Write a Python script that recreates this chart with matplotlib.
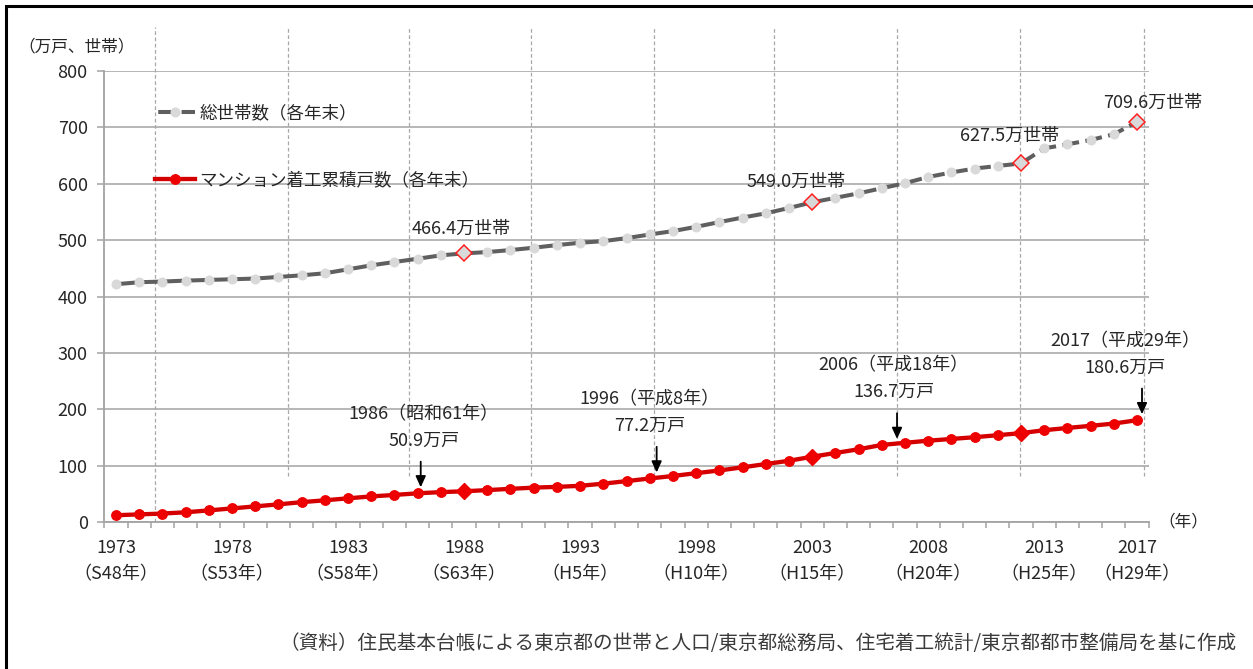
import matplotlib
matplotlib.use('Agg')
import matplotlib.pyplot as plt
import numpy as np
from matplotlib.transforms import offset_copy
from matplotlib.patches import Rectangle

plt.rcParams['font.family'] = ['Noto Sans CJK JP', 'DejaVu Sans']

# data
years = np.arange(1973, 2018)
households = [421.8, 425.3, 426.5, 428.2, 429.4, 430.6, 431.8, 434.7, 437.6, 441.2,
              448.2, 455.3, 461.2, 467.0, 473.0, 476.5, 478.8, 482.4, 486.5, 491.2,
              495.3, 498.2, 503.5, 510.0, 516.0, 523.6, 532.0, 540.0, 547.5, 557.0,
              567.0, 575.0, 583.0, 592.0, 601.0, 612.0, 620.0, 627.0, 631.6, 636.0,
              662.7, 670.0, 677.6, 687.8, 709.6]
condos = [12.0, 13.5, 15.0, 17.2, 20.6, 24.1, 27.7, 31.3, 35.2, 38.5,
          42.0, 45.4, 48.0, 50.9, 53.0, 54.5, 56.6, 58.8, 61.0, 62.3,
          64.2, 68.0, 72.5, 77.2, 81.6, 86.6, 91.4, 97.0, 102.8, 108.6,
          115.8, 122.4, 129.0, 136.7, 140.5, 144.2, 147.3, 150.4, 154.0, 157.6,
          162.8, 166.8, 170.6, 174.6, 180.6]

hh_label = '総世帯数（各年末）'
condo_label = 'マンション着工累積戸数（各年末）'

hh_mark_years = [1988, 2003, 2012, 2017]
hh_mark_vals = [466.4, 549.0, 627.5, 709.6]
condo_diamond_years = [1988, 2003, 2012]

condo_note_years = [1986, 1996, 2006, 2017]
condo_note_eras = ['昭和61年', '平成8年', '平成18年', '平成29年']
condo_note_vals = [50.9, 77.2, 136.7, 180.6]

tick_years = [1973, 1978, 1983, 1988, 1993, 1998, 2003, 2008, 2013, 2017]
tick_eras = ['S48', 'S53', 'S58', 'S63', 'H5', 'H10', 'H15', 'H20', 'H25', 'H29']

source = '（資料）住民基本台帳による東京都の世帯と人口/東京都総務局、住宅着工統計/東京都都市整備局を基に作成'

W, H = 1253, 669
fig = plt.figure(figsize=(W / 100, H / 100), dpi=100)
ax = fig.add_axes([104.4 / W, (H - 522) / H, 1044.2 / W, 451 / H])

grid_c = '#a3a3a3'
text_c = '#262626'

# dashed guide lines (partly above the plot area)
guide_x = [1974.68, 1980.42, 1985.61, 1990.88, 1996.2, 2001.37, 2006.67, 2011.97, 2017.31]
for i, gx in enumerate(guide_x):
    ax.plot([gx, gx], [0 if i == 0 else 82, 878], color='#a8a8a8', lw=0.9,
            ls=(0, (3, 2)), clip_on=False, zorder=1)

# household line
lw = 2.9
hh_line, = ax.plot(years, households, color='#5f5f5f', lw=lw,
                   ls=(5.0, (4.2, 1.6)), marker='o', ms=6.2,
                   mfc='#d9d9d9', mec='#d9d9d9', label=hh_label, zorder=3)
hh_idx = np.isin(years, hh_mark_years)
ax.plot(years[hh_idx], np.array(households)[hh_idx], ls='none', marker='D', ms=8.5,
        mfc='#d9d9d9', mec='#ff2020', mew=1.1, zorder=4)

# condo line
condo_line, = ax.plot(years, condos, color='#d40000', lw=3.1, marker='o', ms=6.8,
                      mfc='#ee0000', mec='#ee0000', label=condo_label, zorder=3)
cd_idx = np.isin(years, condo_diamond_years)
ax.plot(years[cd_idx], np.array(condos)[cd_idx], ls='none', marker='D', ms=8,
        mfc='#ee0000', mec='#ee0000', zorder=4)

# household labels
hh_offsets = [(-2, 17.5), (-11.5, 15), (-8.5, 20), (11, 14)]
for yr, v, off in zip(hh_mark_years, hh_mark_vals, hh_offsets):
    ax.annotate(f'{v:.1f}万世帯', xy=(yr, households[yr - 1973]), xytext=off,
                textcoords='offset points', ha='center', va='center',
                fontsize=13, color=text_c)

# condo notes with arrows
arrow_dx = [2.2, 5.0, 11.0, 3.6]
text_dx = [4.3, 0, 8.6, -8.6]
for yr, era, v, adx, tdx in zip(condo_note_years, condo_note_eras, condo_note_vals,
                                 arrow_dx, text_dx):
    yv = condos[yr - 1973]
    tr = offset_copy(ax.transData, fig=fig, x=adx, y=4.3, units='points')
    ax.annotate('', xy=(yr, yv), xycoords=tr, xytext=(0, 18.5), textcoords='offset points',
                arrowprops=dict(arrowstyle='-|>,head_length=0.55,head_width=0.25',
                                color='black', lw=1.3, shrinkA=0, shrinkB=0,
                                mutation_scale=12))
    ax.annotate(f'{yr}（{era}）\n{v:.1f}万戸', xy=(yr, yv), xytext=(tdx, 47.5),
                textcoords='offset points', ha='center', va='center',
                fontsize=13, color=text_c, linespacing=1.6)

# axes styling
ax.set_xlim(1972.5, 2017.5)
ax.set_ylim(0, 800)
ax.set_yticks(np.arange(0, 801, 100))
ax.yaxis.grid(True, color=grid_c, lw=1.1)
ax.set_axisbelow(True)
for s in ['top', 'right']:
    ax.spines[s].set_visible(False)
for s in ['left', 'bottom']:
    ax.spines[s].set_color(grid_c)
    ax.spines[s].set_linewidth(1.3)
ax.tick_params(axis='y', colors=grid_c, labelcolor=text_c, labelsize=13,
               length=5, width=1.1, pad=7)
ax.set_xticks(tick_years)
ax.set_xticklabels([f'{y}\n（{e}年）' for y, e in zip(tick_years, tick_eras)],
                   linespacing=1.62)
ax.set_xticks(np.arange(1972.5, 2018, 1), minor=True)
ax.tick_params(axis='x', which='major', length=0, labelsize=13, labelcolor=text_c, pad=12)
ax.tick_params(axis='x', which='minor', length=4.5, width=1.1, colors=grid_c)

leg = ax.legend(handles=[hh_line, condo_line], loc='upper left',
                bbox_to_anchor=(155 / W, 1 - 104 / H), bbox_transform=fig.transFigure,
                frameon=False, fontsize=12.6, handlelength=2.3, handletextpad=0.25,
                labelspacing=2.8, borderpad=0, borderaxespad=0, numpoints=1)
for t in leg.get_texts():
    t.set_color(text_c)

fig.text(18 / W, 1 - 47 / H, '（万戸、世帯）', fontsize=12, color=text_c, va='center')
fig.text(1158 / W, 1 - 522 / H, '（年）', fontsize=12, color=text_c, va='center')
fig.text(1237 / W, 1 - 643 / H, source, fontsize=14.1, color='#3a3a3a',
         ha='right', va='center')

fig.add_artist(Rectangle((6 / W, -0.5), 2, 1.5 - 6 / H, transform=fig.transFigure,
                         fill=False, ec='black', lw=2.2, clip_on=False))

fig.savefig('out.png', dpi=100)
